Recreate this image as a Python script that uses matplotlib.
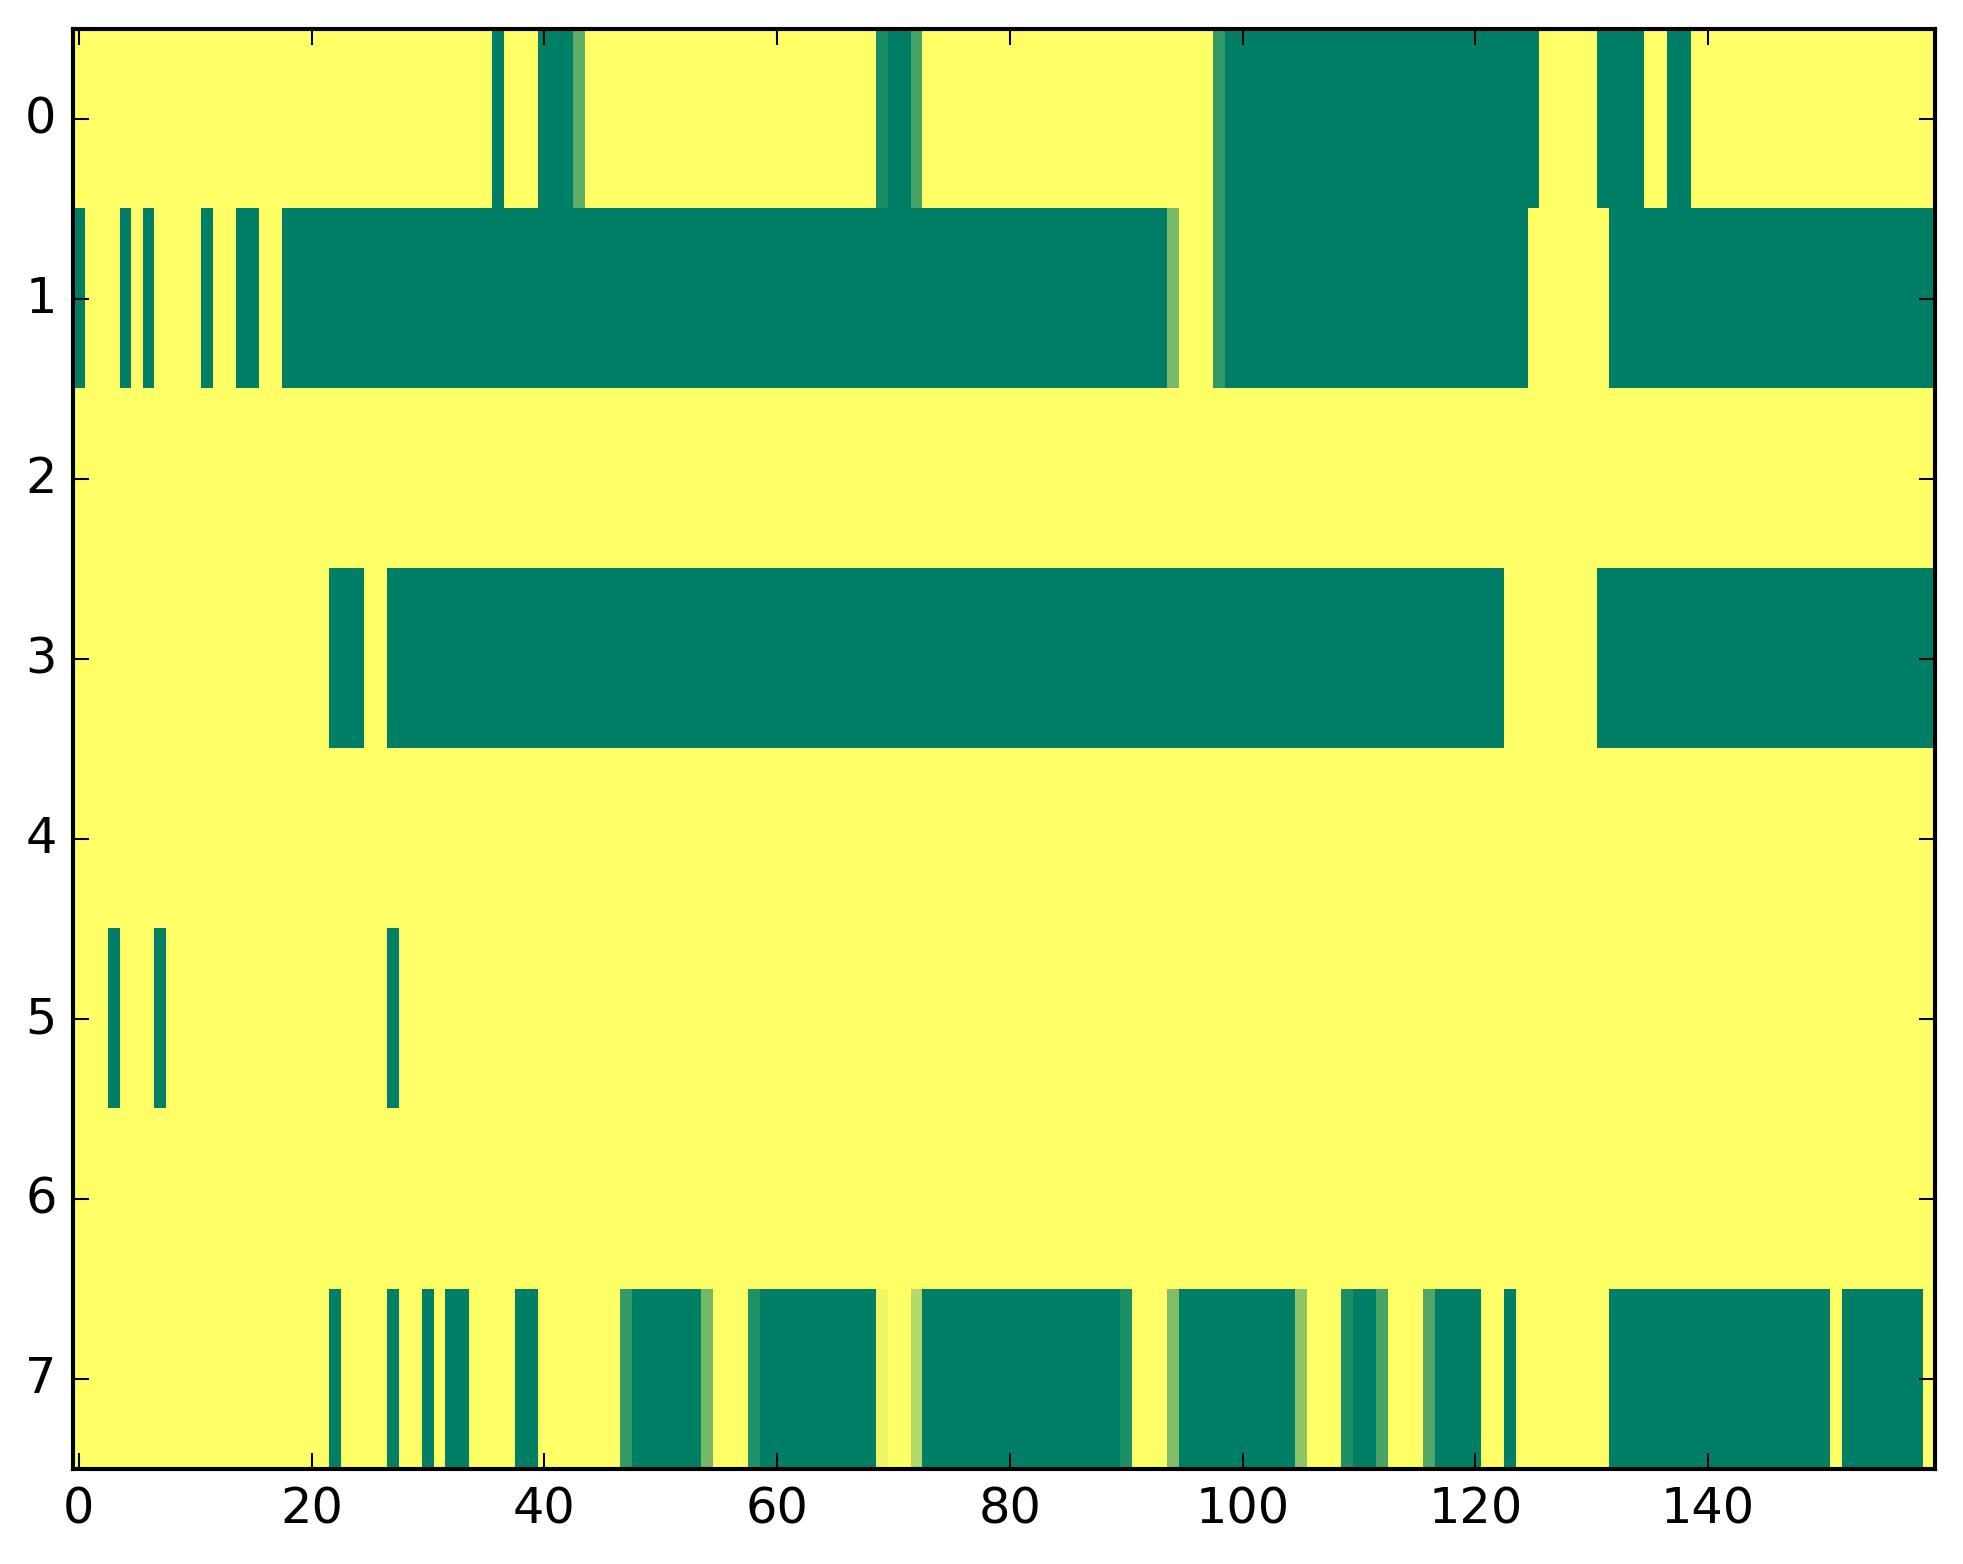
import numpy as np
import matplotlib
matplotlib.use("Agg")
import matplotlib.pyplot as plt

plt.style.use("classic")

# each row as (value, run length) pairs, read left to right; 160 columns per row
row0 = [(1, 36), (0, 1), (1, 3), (0, 3), (0.37, 1), (1, 25), (0.1, 1), (0, 2),
        (0.28, 1), (1, 25), (0.2, 1), (0, 27), (1, 5), (0, 4), (1, 2), (0, 2), (1, 21)]
row1 = [(0, 1), (1, 3), (0, 1), (1, 1), (0, 1), (1, 4), (0, 1), (1, 2), (0, 2),
        (1, 2), (0, 76), (0.47, 1), (1, 3), (0.2, 1), (0, 26), (1, 7), (0, 28)]
row2 = [(1, 160)]
row3 = [(1, 22), (0, 3), (1, 2), (0, 96), (1, 8), (0, 29)]
row4 = [(1, 160)]
row5 = [(1, 3), (0, 1), (1, 3), (0, 1), (1, 19), (0, 1), (1, 132)]
row6 = [(1, 160)]
row7 = [(1, 22), (0, 1), (1, 4), (0, 1), (1, 2), (0, 1), (1, 1), (0, 2), (1, 4),
        (0, 2), (1, 7), (0.2, 1), (0, 6), (0.45, 1), (1, 3), (0.13, 1), (0, 10),
        (0.93, 1), (1, 2), (0.7, 1), (0, 17), (0.12, 1), (1, 3), (0.5, 1), (0, 10),
        (0.55, 1), (1, 3), (0.12, 1), (0, 2), (0.28, 1), (1, 3), (0.32, 1), (0, 4),
        (1, 2), (0, 1), (1, 8), (0, 19), (1, 1), (0, 7), (1, 1)]

rows = [row0, row1, row2, row3, row4, row5, row6, row7]


def expand(runs):
    vals = [v for v, _ in runs]
    counts = [n for _, n in runs]
    return np.repeat(vals, counts)


data = np.array([expand(r) for r in rows])

dpi = 296
fig = plt.figure(figsize=(1963 / dpi, 1564 / dpi), dpi=dpi, facecolor="white")
ax = fig.add_axes([73 / 1963, 1 - 1469 / 1564, (1935 - 73) / 1963, (1469 - 29) / 1564])
ax.imshow(data, cmap="summer", aspect="auto", interpolation="nearest", vmin=0, vmax=1)
ax.set_xticks(np.arange(0, 160, 20))
ax.set_yticks(np.arange(0, 8))
ax.set_xlim(-0.5, 159.5)
ax.set_ylim(7.5, -0.5)

fig.savefig("out.png", dpi=dpi, facecolor="white")
